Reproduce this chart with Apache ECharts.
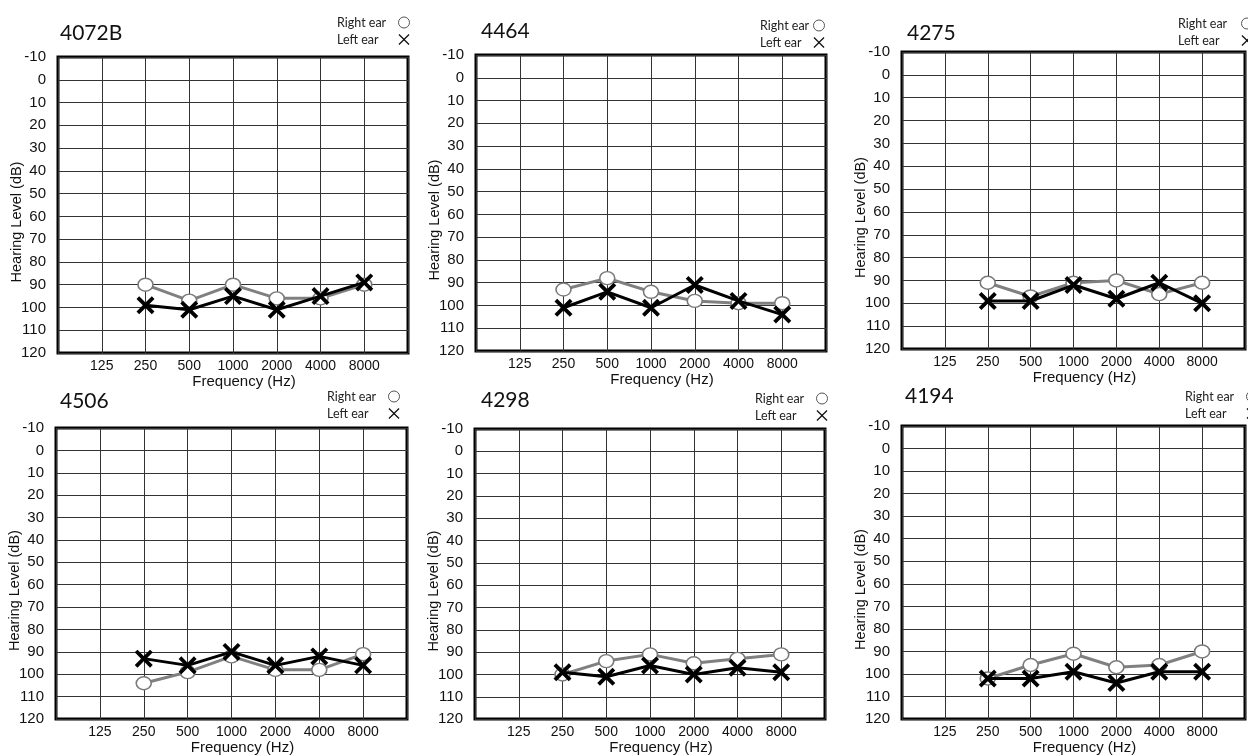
<!DOCTYPE html>
<html>
<head>
<meta charset="utf-8">
<script src="https://cdn.jsdelivr.net/npm/echarts@6/dist/echarts.min.js"></script>
<style>
  html, body { margin: 0; padding: 0; background: #fff; }
  #chart { width: 1248px; height: 756px; }
</style>
</head>
<body>
<div id="chart"></div>
<script>
// frequency axis: blank slots at both ends so 125..8000 sit on inner grid lines
const freqLabels = ['', '125', '250', '500', '1000', '2000', '4000', '8000', ''];
const testFreqs = ['250', '500', '1000', '2000', '4000', '8000'];
const panelIds = ['4072B', '4464', '4275', '4506', '4298', '4194'];

// hearing levels (dB) at 250..8000 Hz
const right4072B = [90, 97, 90, 96, 96, 90];
const left4072B  = [99, 101, 95, 101, 95, 89];
const right4464  = [93, 88, 94, 98, 99, 99];
const left4464   = [101, 94, 101, 91, 98, 104];
const right4275  = [91, 97, 91, 90, 96, 91];
const left4275   = [99, 99, 92, 98, 91, 100];
const right4506  = [104, 99, 92, 98, 98, 91];
const left4506   = [93, 96, 90, 96, 92, 96];
const right4298  = [100, 94, 91, 95, 93, 91];
const left4298   = [99, 101, 96, 100, 97, 99];
const right4194  = [102, 96, 91, 97, 96, 90];
const left4194   = [102, 102, 99, 104, 99, 99];

const rightEar = [right4072B, right4464, right4275, right4506, right4298, right4194];
const leftEar  = [left4072B, left4464, left4275, left4506, left4298, left4194];

// panel placement in the 1248x756 page
const boxes = [
  { left: 58,  top: 57,  width: 350, height: 296, tx: 60,  ty: 23,  lx: 337,  ly: 16,  lw: 56 },
  { left: 476, top: 55,  width: 350, height: 296, tx: 481, ty: 21,  lx: 760,  ly: 19,  lw: 48 },
  { left: 902, top: 52,  width: 351, height: 297, tx: 907, ty: 23,  lx: 1178, ly: 17,  lw: 58 },
  { left: 56,  top: 428, width: 351, height: 297, tx: 60,  ty: 391, lx: 327,  ly: 390, lw: 56 },
  { left: 475, top: 429, width: 350, height: 296, tx: 481, ty: 390, lx: 755,  ly: 392, lw: 56 },
  { left: 902, top: 426, width: 351, height: 296, tx: 905, ty: 386, lx: 1185, ly: 390, lw: 56 }
];

const bigX = 'path://M0,3 L3,0 L10,7 L17,0 L20,3 L13,10 L20,17 L17,20 L10,13 L3,20 L0,17 L7,10 Z';
const thinX = 'path://M0,1.6 L1.6,0 L10,8.4 L18.4,0 L20,1.6 L11.6,10 L20,18.4 L18.4,20 L10,11.6 L1.6,20 L0,18.4 L8.4,10 Z';

const chart = echarts.init(document.getElementById('chart'));

const grid = [], xAxis = [], yAxis = [], title = [], legend = [], series = [];

boxes.forEach(function (b, i) {
  grid.push({
    left: b.left, top: b.top, width: b.width, height: b.height,
    show: true, borderColor: '#000', borderWidth: 3, containLabel: false
  });
  title.push({
    text: panelIds[i], left: b.tx, top: b.ty, padding: 0,
    textStyle: { fontFamily: 'Lato', fontSize: 21, fontWeight: 'normal', color: '#111' }
  });
  legend.push({
    orient: 'vertical', align: 'right', left: b.lx, top: b.ly, padding: 0,
    itemWidth: 12, itemHeight: 11, itemGap: 4, selectedMode: false,
    formatter: '{t|{name}}',
    textStyle: {
      color: '#222',
      rich: { t: { width: b.lw, fontFamily: 'Lato', fontSize: 12.5, color: '#222', align: 'left' } }
    },
    data: [
      { name: 'Right ear', icon: 'circle', itemStyle: { color: '#fff', borderColor: '#555', borderWidth: 1 } },
      { name: 'Left ear', icon: thinX, itemStyle: { color: '#111' } }
    ]
  });
  xAxis.push({
    gridIndex: i, type: 'category', data: freqLabels, boundaryGap: false,
    axisLine: { show: false }, axisTick: { show: false },
    axisLabel: { interval: 0, margin: 6, fontFamily: 'Liberation Sans', fontSize: 14, color: '#111' },
    splitLine: { show: true, interval: 0, lineStyle: { color: '#333', width: 1 } },
    name: 'Frequency (Hz)', nameLocation: 'middle', nameGap: 16,
    nameTextStyle: { fontFamily: 'Liberation Sans', fontSize: 15, color: '#111', padding: [0, 0, 0, 22] }
  });
  yAxis.push({
    gridIndex: i, type: 'value', inverse: true, min: -10, max: 120, interval: 10,
    axisLine: { show: false }, axisTick: { show: false },
    axisLabel: { margin: 12, fontFamily: 'Liberation Sans', fontSize: 15, color: '#111' },
    splitLine: { show: true, lineStyle: { color: '#333', width: 1 } },
    name: 'Hearing Level (dB)', nameLocation: 'middle', nameGap: 34, nameMoveOverlap: false,
    nameTextStyle: { fontFamily: 'Liberation Sans', fontSize: 14.5, color: '#111', padding: [0, 34, 0, 0] }
  });
  series.push({
    type: 'line', name: 'Right ear', xAxisIndex: i, yAxisIndex: i,
    data: testFreqs.map(function (f, k) { return [f, rightEar[i][k]]; }),
    symbol: 'circle', symbolSize: [15, 13],
    lineStyle: { color: '#808080', width: 3 },
    itemStyle: { color: '#fff', borderColor: '#7a7a7a', borderWidth: 1.5 },
    z: 3
  });
  series.push({
    type: 'line', name: 'Left ear', xAxisIndex: i, yAxisIndex: i,
    data: testFreqs.map(function (f, k) { return [f, leftEar[i][k]]; }),
    symbol: bigX, symbolSize: 18,
    lineStyle: { color: '#000', width: 3 },
    itemStyle: { color: '#000' },
    z: 4
  });
});

chart.setOption({
  backgroundColor: '#fff',
  animation: false,
  title: title,
  legend: legend,
  grid: grid,
  xAxis: xAxis,
  yAxis: yAxis,
  series: series
});
</script>
</body>
</html>
